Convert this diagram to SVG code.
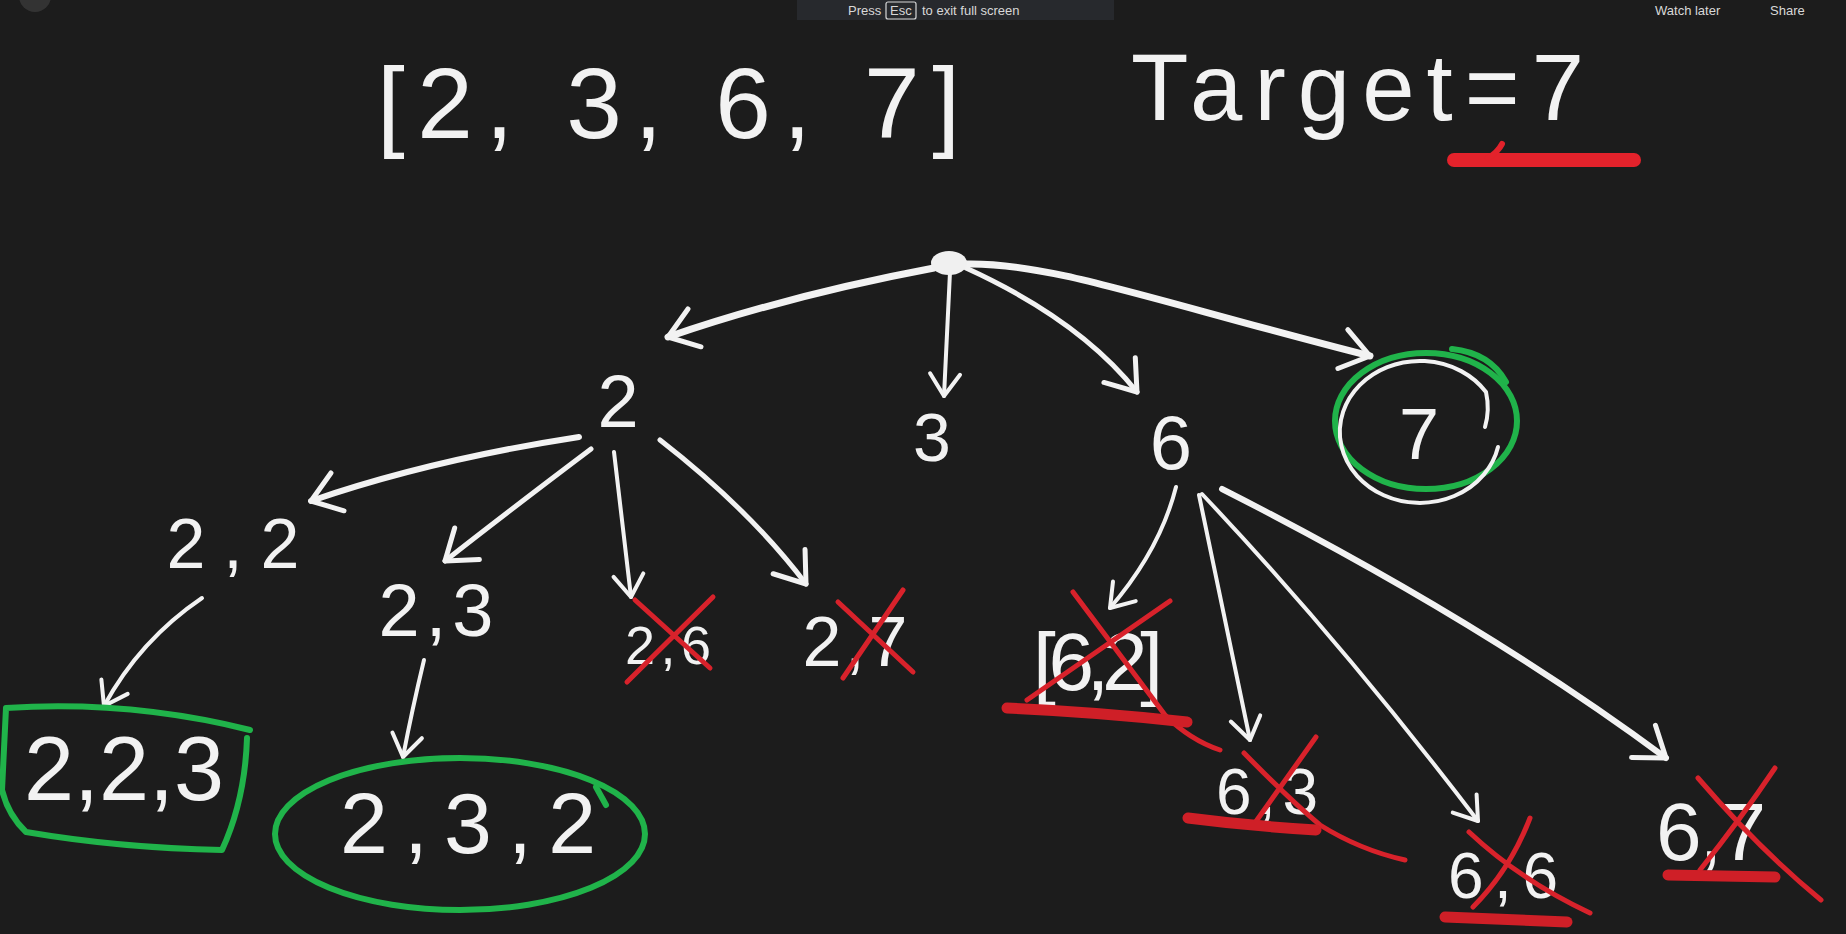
<svg xmlns="http://www.w3.org/2000/svg" width="1846" height="934" viewBox="0 0 1846 934">
<style>
.hw{font-family:"Liberation Sans","DejaVu Sans",sans-serif;fill:#f2f2f2;text-anchor:middle}
.ui{font-family:"Liberation Sans",sans-serif;fill:#d8d8d8;font-size:13px}
.ln{fill:none;stroke:#f2f2f2;stroke-linecap:round;stroke-linejoin:round}
.red{fill:none;stroke:#d8222b;stroke-linecap:round;stroke-linejoin:round;stroke-width:5}
.redu{fill:none;stroke:#cf1f27;stroke-linecap:round;stroke-width:11}
.grn{fill:none;stroke:#20b34a;stroke-width:6;stroke-linecap:round;stroke-linejoin:round}
.wc{fill:none;stroke:#f2f2f2;stroke-width:4;stroke-linecap:round}
</style>
<defs>
<marker id="ah" viewBox="-34 -26 38 52" refX="0" refY="0" markerWidth="38" markerHeight="52" markerUnits="userSpaceOnUse" orient="auto">
<path d="M -28 -20 L 0 0 L -28 20" fill="none" stroke="#f2f2f2" stroke-width="5" stroke-linecap="round" stroke-linejoin="round"/>
</marker>
<marker id="ahs" viewBox="-28 -22 32 44" refX="0" refY="0" markerWidth="32" markerHeight="44" markerUnits="userSpaceOnUse" orient="auto">
<path d="M -22 -15 L 0 0 L -22 15" fill="none" stroke="#f2f2f2" stroke-width="4" stroke-linecap="round" stroke-linejoin="round"/>
</marker>
</defs>
<rect width="1846" height="934" fill="#1c1c1c"/>

<g id="video-ui">
<circle cx="35" cy="-4" r="16" fill="#333"/>
<rect x="797" y="0" width="317" height="20" fill="#27292d"/>
<text class="ui" x="848" y="15">Press</text>
<rect x="886" y="2" width="30" height="17" fill="none" stroke="#d8d8d8" stroke-width="1.2" rx="2"/>
<text class="ui" x="890" y="15">Esc</text>
<text class="ui" x="922" y="15">to exit full screen</text>
<text class="ui" x="1655" y="15">Watch later</text>
<text class="ui" x="1770" y="15">Share</text>
</g>

<g id="title">
<text class="hw" x="377" y="138" font-size="100" style="text-anchor:start" textLength="583" lengthAdjust="spacing">[2, 3, 6, 7]</text>
</g>
<g id="target">
<text class="hw" x="1131" y="120" font-size="94" style="text-anchor:start" textLength="453" lengthAdjust="spacing">Target=7</text>
<path d="M 1454 160 L 1634 160" class="redu" style="stroke-width:14;stroke:#e3222b"/>
<path d="M 1488 158 Q 1498 152 1502 144" class="red" style="stroke:#e3222b;stroke-width:6"/>
</g>

<g id="connectors">
<path class="ln" stroke-width="7" d="M 934 268 Q 790 295 668 337" marker-end="url(#ah)"/>
<path class="ln" stroke-width="4" d="M 950 272 L 944 396" marker-end="url(#ahs)"/>
<path class="ln" stroke-width="5" d="M 966 268 Q 1080 320 1137 392" marker-end="url(#ah)"/>
<path class="ln" stroke-width="7" d="M 965 264 C 1050 262 1150 300 1370 356" marker-end="url(#ah)"/>
<path class="ln" stroke-width="6" d="M 579 437 Q 430 460 311 501" marker-end="url(#ah)"/>
<path class="ln" stroke-width="5" d="M 591 449 Q 510 510 445 561" marker-end="url(#ah)"/>
<path class="ln" stroke-width="4" d="M 614 452 Q 622 520 631 597" marker-end="url(#ahs)"/>
<path class="ln" stroke-width="5" d="M 660 440 Q 750 510 806 584" marker-end="url(#ah)"/>
<path class="ln" stroke-width="4" d="M 202 598 Q 140 640 104 706" marker-end="url(#ahs)"/>
<path class="ln" stroke-width="4" d="M 424 660 Q 412 710 403 757" marker-end="url(#ahs)"/>
<path class="ln" stroke-width="4" d="M 1176 487 Q 1160 550 1110 608" marker-end="url(#ahs)"/>
<path class="ln" stroke-width="4" d="M 1199 495 Q 1225 620 1250 740" marker-end="url(#ahs)"/>
<path class="ln" stroke-width="4" d="M 1202 494 Q 1340 640 1478 821" marker-end="url(#ahs)"/>
<path class="ln" stroke-width="6" d="M 1222 489 Q 1480 620 1666 758" marker-end="url(#ah)"/>
</g>

<g id="root"><ellipse cx="949" cy="263" rx="18" ry="12" fill="#f0f0f0"/></g>

<g id="n2"><text class="hw" x="618" y="427" font-size="74">2</text></g>
<g id="n3"><text class="hw" x="932" y="461" font-size="68">3</text></g>
<g id="n6"><text class="hw" x="1171" y="469" font-size="76">6</text></g>
<g id="n7">
<ellipse class="grn" cx="1426" cy="421" rx="91" ry="68"/>
<path class="grn" d="M 1452 349 Q 1490 353 1506 382"/>
<path class="wc" d="M 1498 447 A 80 71 0 1 1 1486 392 Q 1490 410 1485 427"/>
<text class="hw" x="1419" y="459" font-size="72">7</text>
</g>

<g id="n22"><text class="hw" x="233" y="568" font-size="70" textLength="133" lengthAdjust="spacing">2,2</text></g>
<g id="n23"><text class="hw" x="436" y="636" font-size="74" textLength="115" lengthAdjust="spacing">2,3</text></g>
<g id="n26">
<text class="hw" x="668" y="664" font-size="54" textLength="86" lengthAdjust="spacing">2,6</text>
<path class="red" d="M 635 600 L 710 668 M 713 597 L 627 682"/>
</g>
<g id="n27">
<text class="hw" x="855" y="666" font-size="70" textLength="105" lengthAdjust="spacing">2,7</text>
<path class="red" d="M 838 602 L 913 672 M 903 590 L 843 678"/>
</g>

<g id="n223">
<path class="grn" d="M 6 708 Q 130 700 250 730 M 247 738 Q 245 800 222 850 Q 120 848 26 832 Q 8 815 2 790 L 6 708"/>
<text class="hw" x="124" y="800" font-size="90">2,2,3</text>
</g>
<g id="n232">
<ellipse class="grn" cx="460" cy="834" rx="185" ry="76"/>
<path class="grn" d="M 596 787 L 606 805"/>
<text class="hw" x="468" y="853" font-size="86" textLength="256" lengthAdjust="spacing">2,3,2</text>
</g>

<g id="n62">
<text class="hw" x="1098" y="690" font-size="82" textLength="130" lengthAdjust="spacing">[6,2]</text>
<path class="red" d="M 1073 592 L 1165 715 Q 1190 740 1220 750 M 1170 601 L 1027 700"/>
<path class="redu" d="M 1007 708 Q 1100 712 1187 722"/>
</g>
<g id="n63">
<text class="hw" x="1267" y="814" font-size="64" textLength="102" lengthAdjust="spacing">6,3</text>
<path class="red" d="M 1244 753 Q 1290 800 1320 825 Q 1360 850 1405 860 M 1316 737 L 1252 827"/>
<path class="redu" d="M 1188 818 Q 1250 826 1316 830"/>
</g>
<g id="n66">
<text class="hw" x="1503" y="898" font-size="64" textLength="110" lengthAdjust="spacing">6,6</text>
<path class="red" d="M 1469 832 Q 1520 880 1590 913 M 1530 818 Q 1510 870 1473 907"/>
<path class="redu" d="M 1445 917 L 1567 922"/>
</g>
<g id="n67">
<text class="hw" x="1711" y="860" font-size="82" textLength="110" lengthAdjust="spacing">6,7</text>
<path class="red" d="M 1698 778 Q 1760 850 1821 900 M 1775 768 Q 1740 820 1700 870"/>
<path class="redu" d="M 1668 875 L 1775 877"/>
</g>
</svg>
